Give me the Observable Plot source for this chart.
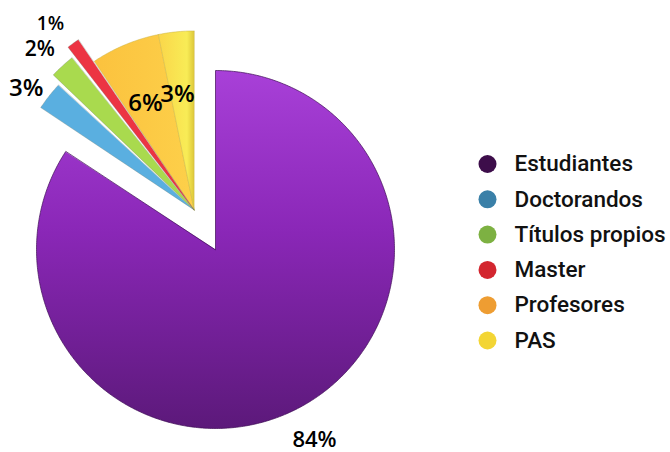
<!DOCTYPE html>
<html><head><meta charset="utf-8">
<script src="https://cdn.jsdelivr.net/npm/d3@7"></script>
<script src="https://cdn.jsdelivr.net/npm/@observablehq/plot@0.6"></script>
<style>body{margin:0;background:#fff}</style>
</head><body><div id="chart"></div>
<script>
// ---- data (shares; labels as printed) ----
const categories = ["Estudiantes","Doctorandos","Títulos propios","Master","Profesores","PAS"];
const shares = [84.2, 2.8, 2.4, 1.2, 6.2, 3.2];
const labels = ["84%","3%","2%","1%","6%","3%"];
const sliceColors = ["url(#gPurple)","#5aafe0","#a9da4e","#ec3443","url(#gOrange)","url(#gYellow)"];
const legendColors = ["#3d0d4a","#3a80a8","#7db142","#d3262f","#ee9d32","#f3d534"];

// ---- layout (styling, not data) ----
const W = 670, H = 452;
const cx = 215, cy = 249, R = 179, explode = 45;
const sliceLayout = {
  "Estudiantes":     {rs: 1.00, pad: 0,   lr: 1.20,  da: 1.0,  size: 22},
  "Doctorandos":     {rs: 1.03, pad: 0.6, lr: 1.157, da: -2.3, size: 24},
  "Títulos propios": {rs: 1.09, pad: 0.6, lr: 1.245, da: -1.3, size: 21},
  "Master":          {rs: 1.15, pad: 0.4, lr: 1.315, da: -1.6, size: 19},
  "Profesores":      {rs: 1.00, pad: 0,   lr: 0.654, da: -1.9, size: 24},
  "PAS":             {rs: 1.00, pad: 0,   lr: 0.651, da: -2.4, size: 24}
};
const legendX = 487, legendTextX = 514, legendTop = 163.5, legendStep = 35.3;

const rows = categories.map((c, i) => ({category: c, share: shares[i], label: labels[i], color: sliceColors[i], legend: legendColors[i], i}));
const arcs = d3.pie().sort(null).value(d => d.share)(rows);

const grpMid = (arcs[1].startAngle + arcs[arcs.length - 1].endAngle) / 2;
const ox = explode * Math.sin(grpMid), oy = -explode * Math.cos(grpMid);
const deg = Math.PI / 180;

const slicePts = [];
const labelPts = [];
arcs.forEach((a, k) => {
  const d = a.data;
  const L = sliceLayout[d.category];
  const vx = cx + (k > 0 ? ox : 0), vy = cy + (k > 0 ? oy : 0);
  const a0 = a.startAngle + L.pad * deg, a1 = a.endAngle - L.pad * deg;
  const r = R * L.rs;
  slicePts.push({id: d.category, x: vx, y: vy, color: d.color});
  const n = Math.max(4, Math.ceil((a1 - a0) / 0.01));
  for (let j = 0; j <= n; j++) {
    const t = a0 + (a1 - a0) * j / n;
    slicePts.push({id: d.category, x: vx + r * Math.sin(t), y: vy - r * Math.cos(t), color: d.color});
  }
  const mid = (a.startAngle + a.endAngle) / 2 + L.da * deg;
  labelPts.push({text: d.label, size: L.size, x: vx + L.lr * R * Math.sin(mid), y: vy - L.lr * R * Math.cos(mid)});
});

const legendRows = rows.map((d, i) => ({category: d.category, color: d.legend, x: legendX, tx: legendTextX, y: legendTop + i * legendStep}));

function defs() {
  const s = d3.create("svg:defs");
  const g1 = s.append("linearGradient").attr("id", "gPurple").attr("x1", 0).attr("y1", 0).attr("x2", 0).attr("y2", 1);
  [[0, "#a840d8"], [0.45, "#8a27b7"], [1, "#5c197a"]].forEach(([o, c]) => g1.append("stop").attr("offset", o).attr("stop-color", c));
  const g2 = s.append("linearGradient").attr("id", "gOrange").attr("x1", 0).attr("y1", 0).attr("x2", 1).attr("y2", 0);
  [[0, "#fbc23e"], [1, "#fdd04a"]].forEach(([o, c]) => g2.append("stop").attr("offset", o).attr("stop-color", c));
  const g3 = s.append("linearGradient").attr("id", "gYellow").attr("x1", 0).attr("y1", 0).attr("x2", 1).attr("y2", 0);
  [[0, "#fad64a"], [0.8, "#f8ec56"], [1, "#ddc83a"]].forEach(([o, c]) => g3.append("stop").attr("offset", o).attr("stop-color", c));
  return s.node();
}

const purplePts = slicePts.filter(p => p.id === categories[0]);
const warmPts = slicePts.filter(p => p.id === categories[4] || p.id === categories[5]);
const thinPts = slicePts.filter(p => [categories[1], categories[2], categories[3]].includes(p.id));

const chart = Plot.plot({
  width: W, height: H, margin: 0,
  x: {domain: [0, W], axis: null},
  y: {domain: [H, 0], axis: null},
  color: {type: "identity"},
  style: {background: "#fff"},
  marks: [
    defs,
    Plot.line(purplePts, {x: "x", y: "y", z: "id", fill: "color", stroke: "#3f0d55", strokeWidth: 1, strokeOpacity: 0.7, curve: "linear-closed"}),
    Plot.line(warmPts, {x: "x", y: "y", z: "id", fill: "color", stroke: "#c8b040", strokeWidth: 0.8, strokeOpacity: 0.6, curve: "linear-closed"}),
    Plot.line(thinPts, {x: "x", y: "y", z: "id", fill: "color", stroke: "#6a7a6a", strokeWidth: 0.6, strokeOpacity: 0.5, curve: "linear-closed"}),
    Plot.text(labelPts, {x: "x", y: "y", text: "text", fontSize: "size", fill: "#000", fontFamily: "Open Sans", fontWeight: 600}),
    Plot.dot(legendRows, {x: "x", y: "y", r: 9, fill: "color", stroke: null}),
    Plot.text(legendRows, {x: "tx", y: "y", text: "category", textAnchor: "start", fontSize: 22.5, fontFamily: "Roboto", fontWeight: 500, fill: "#111"})
  ]
});
document.getElementById("chart").append(chart);
</script>
</body></html>
